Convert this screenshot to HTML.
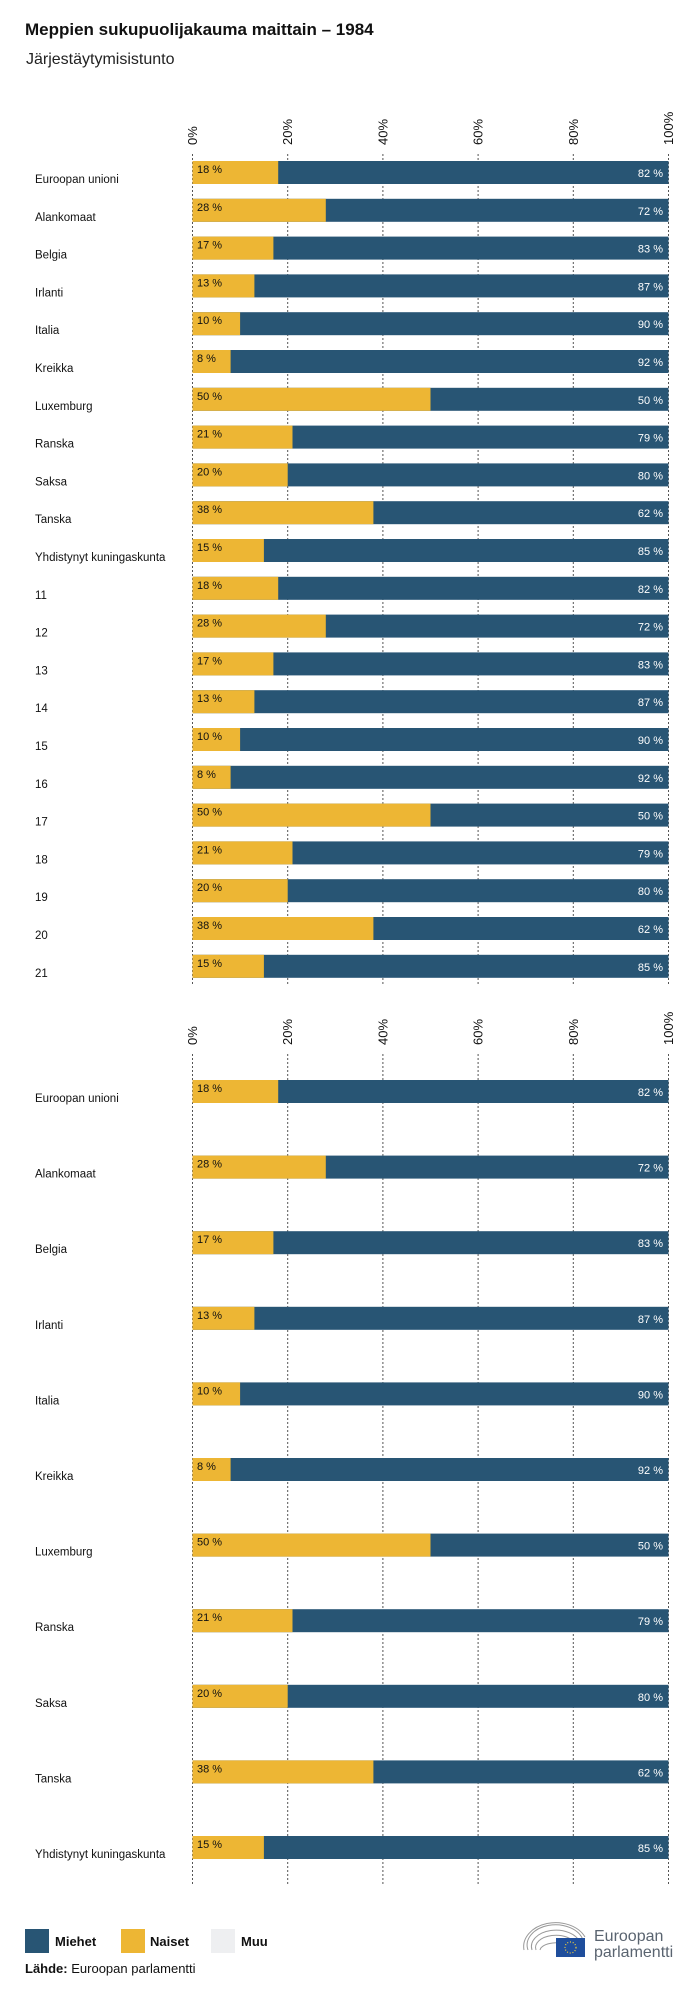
<!DOCTYPE html>
<html><head><meta charset="utf-8"><style>
body{margin:0;background:#fff;}
svg{display:block;font-family:"Liberation Sans",sans-serif;}
.l{font-size:11.5px;fill:#111;}
.v{font-size:11px;fill:#111;font-family:"Liberation Sans Narrow","Liberation Sans",sans-serif;}
.w{font-size:11px;fill:#fff;font-family:"Liberation Sans Narrow","Liberation Sans",sans-serif;}
.t{font-size:13px;fill:#111;}
.g{stroke:#555;stroke-width:1;stroke-dasharray:2,2;}
</style></head><body>
<svg width="700" height="1993" viewBox="0 0 700 1993">
<text x="25" y="35" font-size="17" font-weight="bold" fill="#111">Meppien sukupuolijakauma maittain – 1984</text>
<text x="26" y="64" font-size="16" fill="#222">Järjestäytymisistunto</text>
<defs>
<g id="ticks">
<text class="t" transform="translate(197,145) rotate(-90)">0%</text>
<text class="t" transform="translate(292.2,145) rotate(-90)">20%</text>
<text class="t" transform="translate(387.4,145) rotate(-90)">40%</text>
<text class="t" transform="translate(482.6,145) rotate(-90)">60%</text>
<text class="t" transform="translate(577.8,145) rotate(-90)">80%</text>
<text class="t" transform="translate(673,145) rotate(-90)">100%</text>
</g>
</defs>
<use href="#ticks"/>
<use href="#ticks" y="900"/>
<g class="g">
<line x1="192.5" y1="154" x2="192.5" y2="984"/><line x1="287.7" y1="154" x2="287.7" y2="984"/><line x1="382.9" y1="154" x2="382.9" y2="984"/><line x1="478.1" y1="154" x2="478.1" y2="984"/><line x1="573.3" y1="154" x2="573.3" y2="984"/><line x1="668.5" y1="154" x2="668.5" y2="984"/>
<line x1="192.5" y1="1054" x2="192.5" y2="1884"/><line x1="287.7" y1="1054" x2="287.7" y2="1884"/><line x1="382.9" y1="1054" x2="382.9" y2="1884"/><line x1="478.1" y1="1054" x2="478.1" y2="1884"/><line x1="573.3" y1="1054" x2="573.3" y2="1884"/><line x1="668.5" y1="1054" x2="668.5" y2="1884"/>
</g>
<g id="r1">
<g transform="translate(0,161)"><rect x="192.5" width="476" height="23" fill="#285574"/><rect x="192.5" width="85.7" height="23" fill="#EDB634"/><text x="197" y="12" class="v">18 %</text><text x="663" y="16" class="w" text-anchor="end">82 %</text><text x="35" y="22" class="l">Euroopan unioni</text></g>
<g transform="translate(0,198.8)"><rect x="192.5" width="476" height="23" fill="#285574"/><rect x="192.5" width="133.3" height="23" fill="#EDB634"/><text x="197" y="12" class="v">28 %</text><text x="663" y="16" class="w" text-anchor="end">72 %</text><text x="35" y="22" class="l">Alankomaat</text></g>
<g transform="translate(0,236.6)"><rect x="192.5" width="476" height="23" fill="#285574"/><rect x="192.5" width="80.9" height="23" fill="#EDB634"/><text x="197" y="12" class="v">17 %</text><text x="663" y="16" class="w" text-anchor="end">83 %</text><text x="35" y="22" class="l">Belgia</text></g>
<g transform="translate(0,274.4)"><rect x="192.5" width="476" height="23" fill="#285574"/><rect x="192.5" width="61.9" height="23" fill="#EDB634"/><text x="197" y="12" class="v">13 %</text><text x="663" y="16" class="w" text-anchor="end">87 %</text><text x="35" y="22" class="l">Irlanti</text></g>
<g transform="translate(0,312.2)"><rect x="192.5" width="476" height="23" fill="#285574"/><rect x="192.5" width="47.6" height="23" fill="#EDB634"/><text x="197" y="12" class="v">10 %</text><text x="663" y="16" class="w" text-anchor="end">90 %</text><text x="35" y="22" class="l">Italia</text></g>
<g transform="translate(0,350)"><rect x="192.5" width="476" height="23" fill="#285574"/><rect x="192.5" width="38.1" height="23" fill="#EDB634"/><text x="197" y="12" class="v">8 %</text><text x="663" y="16" class="w" text-anchor="end">92 %</text><text x="35" y="22" class="l">Kreikka</text></g>
<g transform="translate(0,387.8)"><rect x="192.5" width="476" height="23" fill="#285574"/><rect x="192.5" width="238" height="23" fill="#EDB634"/><text x="197" y="12" class="v">50 %</text><text x="663" y="16" class="w" text-anchor="end">50 %</text><text x="35" y="22" class="l">Luxemburg</text></g>
<g transform="translate(0,425.6)"><rect x="192.5" width="476" height="23" fill="#285574"/><rect x="192.5" width="100" height="23" fill="#EDB634"/><text x="197" y="12" class="v">21 %</text><text x="663" y="16" class="w" text-anchor="end">79 %</text><text x="35" y="22" class="l">Ranska</text></g>
<g transform="translate(0,463.4)"><rect x="192.5" width="476" height="23" fill="#285574"/><rect x="192.5" width="95.2" height="23" fill="#EDB634"/><text x="197" y="12" class="v">20 %</text><text x="663" y="16" class="w" text-anchor="end">80 %</text><text x="35" y="22" class="l">Saksa</text></g>
<g transform="translate(0,501.2)"><rect x="192.5" width="476" height="23" fill="#285574"/><rect x="192.5" width="180.9" height="23" fill="#EDB634"/><text x="197" y="12" class="v">38 %</text><text x="663" y="16" class="w" text-anchor="end">62 %</text><text x="35" y="22" class="l">Tanska</text></g>
<g transform="translate(0,539)"><rect x="192.5" width="476" height="23" fill="#285574"/><rect x="192.5" width="71.4" height="23" fill="#EDB634"/><text x="197" y="12" class="v">15 %</text><text x="663" y="16" class="w" text-anchor="end">85 %</text><text x="35" y="22" class="l">Yhdistynyt kuningaskunta</text></g>
<g transform="translate(0,576.8)"><rect x="192.5" width="476" height="23" fill="#285574"/><rect x="192.5" width="85.7" height="23" fill="#EDB634"/><text x="197" y="12" class="v">18 %</text><text x="663" y="16" class="w" text-anchor="end">82 %</text><text x="35" y="22" class="l">11</text></g>
<g transform="translate(0,614.6)"><rect x="192.5" width="476" height="23" fill="#285574"/><rect x="192.5" width="133.3" height="23" fill="#EDB634"/><text x="197" y="12" class="v">28 %</text><text x="663" y="16" class="w" text-anchor="end">72 %</text><text x="35" y="22" class="l">12</text></g>
<g transform="translate(0,652.4)"><rect x="192.5" width="476" height="23" fill="#285574"/><rect x="192.5" width="80.9" height="23" fill="#EDB634"/><text x="197" y="12" class="v">17 %</text><text x="663" y="16" class="w" text-anchor="end">83 %</text><text x="35" y="22" class="l">13</text></g>
<g transform="translate(0,690.2)"><rect x="192.5" width="476" height="23" fill="#285574"/><rect x="192.5" width="61.9" height="23" fill="#EDB634"/><text x="197" y="12" class="v">13 %</text><text x="663" y="16" class="w" text-anchor="end">87 %</text><text x="35" y="22" class="l">14</text></g>
<g transform="translate(0,728)"><rect x="192.5" width="476" height="23" fill="#285574"/><rect x="192.5" width="47.6" height="23" fill="#EDB634"/><text x="197" y="12" class="v">10 %</text><text x="663" y="16" class="w" text-anchor="end">90 %</text><text x="35" y="22" class="l">15</text></g>
<g transform="translate(0,765.8)"><rect x="192.5" width="476" height="23" fill="#285574"/><rect x="192.5" width="38.1" height="23" fill="#EDB634"/><text x="197" y="12" class="v">8 %</text><text x="663" y="16" class="w" text-anchor="end">92 %</text><text x="35" y="22" class="l">16</text></g>
<g transform="translate(0,803.6)"><rect x="192.5" width="476" height="23" fill="#285574"/><rect x="192.5" width="238" height="23" fill="#EDB634"/><text x="197" y="12" class="v">50 %</text><text x="663" y="16" class="w" text-anchor="end">50 %</text><text x="35" y="22" class="l">17</text></g>
<g transform="translate(0,841.4)"><rect x="192.5" width="476" height="23" fill="#285574"/><rect x="192.5" width="100" height="23" fill="#EDB634"/><text x="197" y="12" class="v">21 %</text><text x="663" y="16" class="w" text-anchor="end">79 %</text><text x="35" y="22" class="l">18</text></g>
<g transform="translate(0,879.2)"><rect x="192.5" width="476" height="23" fill="#285574"/><rect x="192.5" width="95.2" height="23" fill="#EDB634"/><text x="197" y="12" class="v">20 %</text><text x="663" y="16" class="w" text-anchor="end">80 %</text><text x="35" y="22" class="l">19</text></g>
<g transform="translate(0,917)"><rect x="192.5" width="476" height="23" fill="#285574"/><rect x="192.5" width="180.9" height="23" fill="#EDB634"/><text x="197" y="12" class="v">38 %</text><text x="663" y="16" class="w" text-anchor="end">62 %</text><text x="35" y="22" class="l">20</text></g>
<g transform="translate(0,954.8)"><rect x="192.5" width="476" height="23" fill="#285574"/><rect x="192.5" width="71.4" height="23" fill="#EDB634"/><text x="197" y="12" class="v">15 %</text><text x="663" y="16" class="w" text-anchor="end">85 %</text><text x="35" y="22" class="l">21</text></g>
</g>
<g>
<g transform="translate(0,1080)"><rect x="192.5" width="476" height="23" fill="#285574"/><rect x="192.5" width="85.7" height="23" fill="#EDB634"/><text x="197" y="12" class="v">18 %</text><text x="663" y="16" class="w" text-anchor="end">82 %</text><text x="35" y="22" class="l">Euroopan unioni</text></g>
<g transform="translate(0,1155.6)"><rect x="192.5" width="476" height="23" fill="#285574"/><rect x="192.5" width="133.3" height="23" fill="#EDB634"/><text x="197" y="12" class="v">28 %</text><text x="663" y="16" class="w" text-anchor="end">72 %</text><text x="35" y="22" class="l">Alankomaat</text></g>
<g transform="translate(0,1231.2)"><rect x="192.5" width="476" height="23" fill="#285574"/><rect x="192.5" width="80.9" height="23" fill="#EDB634"/><text x="197" y="12" class="v">17 %</text><text x="663" y="16" class="w" text-anchor="end">83 %</text><text x="35" y="22" class="l">Belgia</text></g>
<g transform="translate(0,1306.8)"><rect x="192.5" width="476" height="23" fill="#285574"/><rect x="192.5" width="61.9" height="23" fill="#EDB634"/><text x="197" y="12" class="v">13 %</text><text x="663" y="16" class="w" text-anchor="end">87 %</text><text x="35" y="22" class="l">Irlanti</text></g>
<g transform="translate(0,1382.4)"><rect x="192.5" width="476" height="23" fill="#285574"/><rect x="192.5" width="47.6" height="23" fill="#EDB634"/><text x="197" y="12" class="v">10 %</text><text x="663" y="16" class="w" text-anchor="end">90 %</text><text x="35" y="22" class="l">Italia</text></g>
<g transform="translate(0,1458)"><rect x="192.5" width="476" height="23" fill="#285574"/><rect x="192.5" width="38.1" height="23" fill="#EDB634"/><text x="197" y="12" class="v">8 %</text><text x="663" y="16" class="w" text-anchor="end">92 %</text><text x="35" y="22" class="l">Kreikka</text></g>
<g transform="translate(0,1533.6)"><rect x="192.5" width="476" height="23" fill="#285574"/><rect x="192.5" width="238" height="23" fill="#EDB634"/><text x="197" y="12" class="v">50 %</text><text x="663" y="16" class="w" text-anchor="end">50 %</text><text x="35" y="22" class="l">Luxemburg</text></g>
<g transform="translate(0,1609.2)"><rect x="192.5" width="476" height="23" fill="#285574"/><rect x="192.5" width="100" height="23" fill="#EDB634"/><text x="197" y="12" class="v">21 %</text><text x="663" y="16" class="w" text-anchor="end">79 %</text><text x="35" y="22" class="l">Ranska</text></g>
<g transform="translate(0,1684.8)"><rect x="192.5" width="476" height="23" fill="#285574"/><rect x="192.5" width="95.2" height="23" fill="#EDB634"/><text x="197" y="12" class="v">20 %</text><text x="663" y="16" class="w" text-anchor="end">80 %</text><text x="35" y="22" class="l">Saksa</text></g>
<g transform="translate(0,1760.4)"><rect x="192.5" width="476" height="23" fill="#285574"/><rect x="192.5" width="180.9" height="23" fill="#EDB634"/><text x="197" y="12" class="v">38 %</text><text x="663" y="16" class="w" text-anchor="end">62 %</text><text x="35" y="22" class="l">Tanska</text></g>
<g transform="translate(0,1836)"><rect x="192.5" width="476" height="23" fill="#285574"/><rect x="192.5" width="71.4" height="23" fill="#EDB634"/><text x="197" y="12" class="v">15 %</text><text x="663" y="16" class="w" text-anchor="end">85 %</text><text x="35" y="22" class="l">Yhdistynyt kuningaskunta</text></g>
</g>
<rect x="25" y="1929" width="24" height="24" fill="#285574"/>
<text x="55" y="1946" font-size="13" font-weight="bold" fill="#111">Miehet</text>
<rect x="121" y="1929" width="24" height="24" fill="#EDB634"/>
<text x="150" y="1946" font-size="13" font-weight="bold" fill="#111">Naiset</text>
<rect x="211" y="1929" width="24" height="24" fill="#EEEFF1"/>
<text x="241" y="1946" font-size="13" font-weight="bold" fill="#111">Muu</text>
<text x="25" y="1973" font-size="13" fill="#111"><tspan font-weight="bold">Lähde:</tspan> Euroopan parlamentti</text>
<g fill="none" stroke="#999" stroke-width="1">
<path d="M524 1950 A32 24 0 0 1 585 1937"/><path d="M528 1950 A28 20 0 0 1 583 1940"/><path d="M532 1950 A24 16 0 0 1 580 1943"/><path d="M536 1950 A20 12 0 0 1 576 1945"/><path d="M540 1950 A16 8 0 0 1 570 1947"/>
</g>
<rect x="556" y="1938" width="29" height="19" fill="#1F4E9C"/>
<circle cx="570.5" cy="1947.5" r="5.5" fill="none" stroke="#F5D23C" stroke-width="1.2" stroke-dasharray="1,1.8"/>
<text x="594" y="1941" font-size="16" fill="#5a6470">Euroopan</text>
<text x="594" y="1957" font-size="16" fill="#5a6470">parlamentti</text>
</svg>
</body></html>
